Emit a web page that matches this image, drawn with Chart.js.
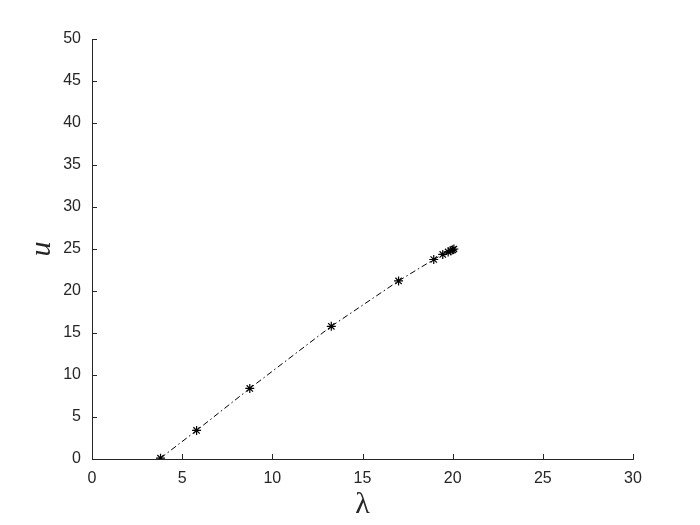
<!DOCTYPE html>
<html>
<head>
<meta charset="utf-8">
<script src="https://cdn.jsdelivr.net/npm/chart.js@4.4.1/dist/chart.umd.min.js"></script>
<style>
  html, body { margin: 0; padding: 0; background: #fff; }
  #wrap { width: 700px; height: 525px; }
</style>
</head>
<body>
<div id="wrap"><canvas id="myChart" width="700" height="525"></canvas></div>
<script>
// values
const lambdaVals = [3.8, 5.8, 8.75, 13.27, 17.0, 18.95, 19.45, 19.75, 19.9, 20.0, 20.07];
const uVals = [0.1, 3.4, 8.4, 15.8, 21.2, 23.75, 24.35, 24.65, 24.8, 24.9, 25.0];
const xTicks = [0, 5, 10, 15, 20, 25, 30];
const yTicks = [0, 5, 10, 15, 20, 25, 30, 35, 40, 45, 50];

const points = lambdaVals.map((x, i) => ({ x: x, y: uVals[i] }));
const axisColor = '#262626';

// matlab style ticks pointing into the plot
const innerTicks = {
  id: 'innerTicks',
  afterDraw(chart) {
    const ctx = chart.ctx;
    const xs = chart.scales.x, ys = chart.scales.y;
    ctx.save();
    ctx.strokeStyle = axisColor;
    ctx.lineWidth = 1;
    ctx.beginPath();
    xTicks.forEach(v => {
      const px = Math.round(xs.getPixelForValue(v)) + 0.5;
      ctx.moveTo(px, ys.bottom);
      ctx.lineTo(px, ys.bottom - 5);
    });
    yTicks.forEach(v => {
      const py = Math.round(ys.getPixelForValue(v)) + 0.5;
      ctx.moveTo(xs.left, py);
      ctx.lineTo(xs.left + 5, py);
    });
    ctx.stroke();
    ctx.restore();
  }
};

new Chart(document.getElementById('myChart').getContext('2d'), {
  type: 'scatter',
  data: {
    datasets: [{
      data: points,
      showLine: true,
      borderColor: '#000',
      borderWidth: 1,
      borderDash: [6, 3, 1.5, 3],
      pointStyle: 'star',
      pointRadius: 4.5,
      pointBorderWidth: 1.2,
      pointBorderColor: '#000',
      pointBackgroundColor: '#000'
    }]
  },
  options: {
    responsive: false,
    animation: false,
    layout: { padding: { left: 0, top: 39, right: 67, bottom: 0 } },
    plugins: { legend: { display: false }, tooltip: { enabled: false } },
    scales: {
      x: {
        type: 'linear',
        min: 0, max: 30,
        afterFit: s => { s.height = 66; },
        afterBuildTicks: s => { s.ticks = xTicks.map(v => ({ value: v })); },
        grid: { display: false, drawTicks: false },
        border: { display: true, color: axisColor, width: 1 },
        ticks: { color: axisColor, padding: 10, font: { family: 'Liberation Sans', size: 16 } },
        title: {
          display: true, text: 'λ', color: axisColor,
          font: { family: 'Liberation Serif', size: 30 },
          padding: { top: 0, bottom: 2 }
        }
      },
      y: {
        type: 'linear',
        min: 0, max: 50,
        afterFit: s => { s.width = 92; },
        afterBuildTicks: s => { s.ticks = yTicks.map(v => ({ value: v })); },
        grid: { display: false, drawTicks: false },
        border: { display: true, color: axisColor, width: 1 },
        ticks: { color: axisColor, padding: 11, font: { family: 'Liberation Sans', size: 16 } },
        title: {
          display: true, text: 'u', color: axisColor,
          font: { family: 'Liberation Serif', size: 30, style: 'italic' },
          padding: { top: 24, bottom: 0 }
        }
      }
    }
  },
  plugins: [innerTicks]
});
</script>
</body>
</html>
